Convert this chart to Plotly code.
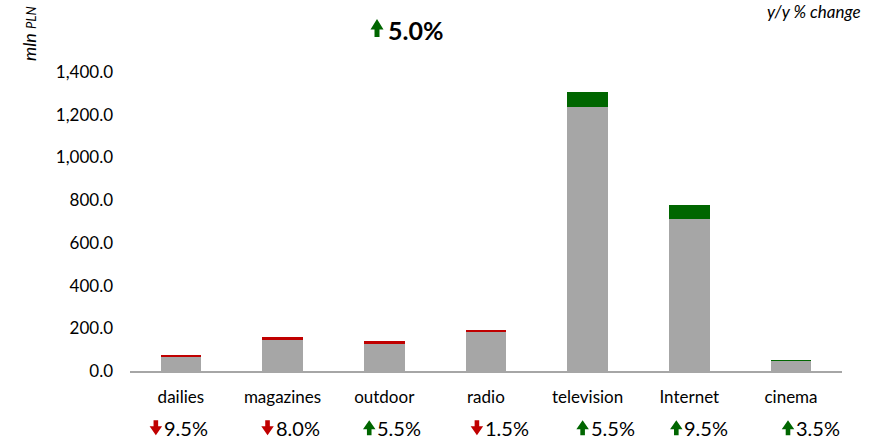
import plotly.graph_objects as go

# Advertising spend by medium, mln PLN
categories = ["dailies", "magazines", "outdoor", "radio", "television", "Internet", "cinema"]
base_values = [66, 145, 131, 187, 1238, 710, 48]   # grey part of each column
change_values = [7, 13, 8, 3, 68, 67, 2]           # coloured cap (size of the y/y change)
change_up = [False, False, False, False, True, True, True]  # cap colour: green = up, red = down
pct_change = [9.5, 8.0, 5.5, 1.5, 5.5, 9.5, 3.5]
pct_up = [False, False, True, False, True, True, True]
total_pct = 5.0
y_ticks = [0, 200, 400, 600, 800, 1000, 1200, 1400]

GREY = "#A6A6A6"
GREEN = "#006600"
RED = "#C00000"
FONT = "Lato, Carlito, Calibri, sans-serif"


def arrow_path(up, w, h, head, stem, dx=0.0):
    """Block arrow centred on (dx, 0), in pixels (y grows upwards)."""
    s = 1 if up else -1
    top, bot = s * h / 2, -s * h / 2
    neck = top - s * head
    pts = [(0, top), (w / 2, neck), (stem / 2, neck), (stem / 2, bot),
           (-stem / 2, bot), (-stem / 2, neck), (-w / 2, neck)]
    return "M" + " L".join(f"{x + dx:.2f},{y:.2f}" for x, y in pts) + " Z"


def arrow_shape(up, x, xref, y, w, h, head, stem, dx=0.0):
    return dict(type="path", xref=xref, xsizemode="pixel", xanchor=x,
                yref="paper", ysizemode="pixel", yanchor=y,
                path=arrow_path(up, w, h, head, stem, dx),
                fillcolor=GREEN if up else RED, line_width=0)


fig = go.Figure()
fig.add_bar(x=categories, y=base_values, marker_color=GREY, width=0.4,
            marker_line_width=0, hoverinfo="skip")
fig.add_bar(x=categories, y=change_values,
            marker_color=[GREEN if u else RED for u in change_up],
            width=0.4, marker_line_width=0, hoverinfo="skip")

# per-column y/y change labels under the category names
label_left = [-31, -21, -21, -15, -11, -19, -9]   # px from column centre
LABEL_Y = -0.19
annotations, shapes = [], []
for i, (p, up, dx) in enumerate(zip(pct_change, pct_up, label_left)):
    annotations.append(dict(
        x=i, xref="x", y=LABEL_Y, yref="paper", xanchor="left", yanchor="middle",
        xshift=dx + 12, text=f"{p:.1f}%", showarrow=False,
        font=dict(family=FONT, size=20, color="#000000")))
    shapes.append(arrow_shape(up, i, "x", LABEL_Y, 12.5, 15, 9, 4.6, dx=dx + 6))

# headline total change
TITLE_Y = 1.14
annotations.append(dict(x=(386 - 130) / 712, xref="x domain", y=TITLE_Y, yref="paper",
                        xanchor="left", yanchor="middle", showarrow=False,
                        text=f"<b>{total_pct:.1f}%</b>",
                        font=dict(family=FONT, size=25, color="#000000")))
shapes.append(arrow_shape(total_pct >= 0, (377 - 130) / 712, "x domain", TITLE_Y + 0.007,
                          13, 18, 10.5, 5))

annotations += [
    dict(x=1.03, xref="paper", y=1.204, yref="paper", xanchor="right", yanchor="middle",
         showarrow=False, text="<i>y/y % change</i>",
         font=dict(family=FONT, size=17, color="#000000")),
    dict(x=-0.142, xref="paper", y=1.13, yref="paper", xanchor="center", yanchor="middle",
         textangle=-90, showarrow=False,
         text='<i>mln <span style="font-size:13px">PLN</span></i>',
         font=dict(family=FONT, size=18, color="#000000")),
]

fig.update_layout(
    width=881, height=440,
    margin=dict(l=130, r=39, t=72, b=69),
    paper_bgcolor="white", plot_bgcolor="white",
    barmode="stack", showlegend=False,
    font=dict(family=FONT, size=17, color="#000000"),
    xaxis=dict(showgrid=False, showline=True, linecolor="#A6A6A6", linewidth=2,
               ticks="", ticklabelstandoff=10, tickfont=dict(size=17)),
    yaxis=dict(range=[0, 1400], tickvals=y_ticks, tickformat=",.1f",
               showgrid=False, zeroline=False, showline=False, ticks="",
               ticklabelstandoff=16, tickfont=dict(size=17)),
    annotations=annotations,
    shapes=shapes,
)

fig.write_html("out.html")
